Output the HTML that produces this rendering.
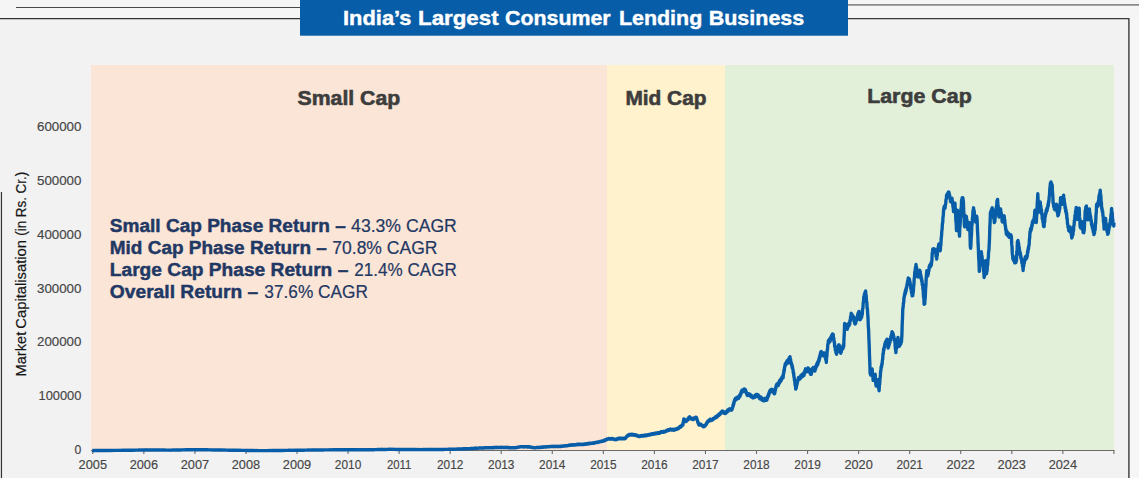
<!DOCTYPE html>
<html><head><meta charset="utf-8"><title>India's Largest Consumer Lending Business</title>
<style>
html,body{margin:0;padding:0;background:#f2f2f2;}
body{width:1139px;height:478px;overflow:hidden;font-family:"Liberation Sans",sans-serif;}
svg{display:block;}
svg text{font-family:"Liberation Sans",sans-serif;}
</style></head><body>
<svg width="1139" height="478" viewBox="0 0 1139 478">
<rect x="0" y="0" width="1139" height="478" fill="#f2f2f2"/>
<!-- outer texture strips -->
<rect x="0" y="0" width="300" height="18.6" fill="#f5f5f5"/>
<rect x="848" y="0" width="291" height="18.6" fill="#f5f5f5"/>
<rect x="1129.5" y="18" width="9.5" height="460" fill="#f6f6f6"/>
<!-- frame lines -->
<line x1="16" y1="7.5" x2="300" y2="7.5" stroke="#474747" stroke-width="1"/>
<line x1="0" y1="18.6" x2="300" y2="18.6" stroke="#333" stroke-width="1.3"/>
<line x1="848" y1="4.9" x2="1139" y2="4.9" stroke="#8a8a8a" stroke-width="1.6"/>
<polyline points="848,18.6 1128.9,18.6 1128.9,478" fill="none" stroke="#3a3a3a" stroke-width="1.4"/>
<line x1="1.45" y1="192" x2="1.45" y2="478" stroke="#333" stroke-width="1.2"/>
<!-- title -->
<rect x="300" y="0" width="548" height="35.7" fill="#075da8"/>
<text y="25" font-size="20.5" font-weight="bold" fill="#ffffff" stroke="#ffffff" stroke-width="0.4"><tspan x="343" textLength="68.5" lengthAdjust="spacingAndGlyphs">India’s</tspan><tspan x="418" textLength="80.6" lengthAdjust="spacingAndGlyphs">Largest</tspan><tspan x="505.1" textLength="105.6" lengthAdjust="spacingAndGlyphs">Consumer</tspan><tspan x="618.9" textLength="83.4" lengthAdjust="spacingAndGlyphs">Lending</tspan><tspan x="708.7" textLength="95.6" lengthAdjust="spacingAndGlyphs">Business</tspan></text>
<!-- zones -->
<rect x="91" y="65" width="516" height="385.5" fill="#fbe5d6"/>
<rect x="607" y="65" width="118" height="385.5" fill="#fff2cc"/>
<rect x="725" y="65" width="389" height="385.5" fill="#e2f0d9"/>
<g font-size="20.8" font-weight="bold" fill="#3d3d3d" stroke="#3d3d3d" stroke-width="0.6">
<text x="297.6" y="104.9" textLength="102.6" lengthAdjust="spacingAndGlyphs">Small Cap</text>
<text x="625.4" y="104.9" textLength="81.1" lengthAdjust="spacingAndGlyphs">Mid Cap</text>
<text x="867.2" y="102.7" textLength="104.5" lengthAdjust="spacingAndGlyphs">Large Cap</text>
</g>
<!-- axis -->
<g stroke="#6a6a6a" stroke-width="1.1">
<line x1="91" y1="450.5" x2="1114.5" y2="450.5"/>
<line x1="92.80" y1="450.5" x2="92.80" y2="454" /><line x1="143.85" y1="450.5" x2="143.85" y2="454" /><line x1="194.91" y1="450.5" x2="194.91" y2="454" /><line x1="245.96" y1="450.5" x2="245.96" y2="454" /><line x1="297.02" y1="450.5" x2="297.02" y2="454" /><line x1="348.07" y1="450.5" x2="348.07" y2="454" /><line x1="399.13" y1="450.5" x2="399.13" y2="454" /><line x1="450.19" y1="450.5" x2="450.19" y2="454" /><line x1="501.24" y1="450.5" x2="501.24" y2="454" /><line x1="552.29" y1="450.5" x2="552.29" y2="454" /><line x1="603.35" y1="450.5" x2="603.35" y2="454" /><line x1="654.40" y1="450.5" x2="654.40" y2="454" /><line x1="705.46" y1="450.5" x2="705.46" y2="454" /><line x1="756.51" y1="450.5" x2="756.51" y2="454" /><line x1="807.57" y1="450.5" x2="807.57" y2="454" /><line x1="858.62" y1="450.5" x2="858.62" y2="454" /><line x1="909.68" y1="450.5" x2="909.68" y2="454" /><line x1="960.73" y1="450.5" x2="960.73" y2="454" /><line x1="1011.79" y1="450.5" x2="1011.79" y2="454" /><line x1="1062.85" y1="450.5" x2="1062.85" y2="454" /><line x1="1113.90" y1="450.5" x2="1113.90" y2="454" />
</g>
<g font-size="12" fill="#454545" stroke="#454545" stroke-width="0.15">
<text x="92.80" y="468.8" text-anchor="middle" textLength="28.4" lengthAdjust="spacingAndGlyphs">2005</text><text x="143.85" y="468.8" text-anchor="middle" textLength="28.4" lengthAdjust="spacingAndGlyphs">2006</text><text x="194.91" y="468.8" text-anchor="middle" textLength="28.4" lengthAdjust="spacingAndGlyphs">2007</text><text x="245.96" y="468.8" text-anchor="middle" textLength="28.4" lengthAdjust="spacingAndGlyphs">2008</text><text x="297.02" y="468.8" text-anchor="middle" textLength="28.4" lengthAdjust="spacingAndGlyphs">2009</text><text x="348.07" y="468.8" text-anchor="middle" textLength="26.4" lengthAdjust="spacingAndGlyphs">2010</text><text x="399.13" y="468.8" text-anchor="middle" textLength="24.4" lengthAdjust="spacingAndGlyphs">2011</text><text x="450.19" y="468.8" text-anchor="middle" textLength="26.4" lengthAdjust="spacingAndGlyphs">2012</text><text x="501.24" y="468.8" text-anchor="middle" textLength="26.4" lengthAdjust="spacingAndGlyphs">2013</text><text x="552.29" y="468.8" text-anchor="middle" textLength="26.4" lengthAdjust="spacingAndGlyphs">2014</text><text x="603.35" y="468.8" text-anchor="middle" textLength="26.4" lengthAdjust="spacingAndGlyphs">2015</text><text x="654.40" y="468.8" text-anchor="middle" textLength="26.4" lengthAdjust="spacingAndGlyphs">2016</text><text x="705.46" y="468.8" text-anchor="middle" textLength="26.4" lengthAdjust="spacingAndGlyphs">2017</text><text x="756.51" y="468.8" text-anchor="middle" textLength="26.4" lengthAdjust="spacingAndGlyphs">2018</text><text x="807.57" y="468.8" text-anchor="middle" textLength="26.4" lengthAdjust="spacingAndGlyphs">2019</text><text x="858.62" y="468.8" text-anchor="middle" textLength="28.4" lengthAdjust="spacingAndGlyphs">2020</text><text x="909.68" y="468.8" text-anchor="middle" textLength="26.4" lengthAdjust="spacingAndGlyphs">2021</text><text x="960.73" y="468.8" text-anchor="middle" textLength="28.4" lengthAdjust="spacingAndGlyphs">2022</text><text x="1011.79" y="468.8" text-anchor="middle" textLength="28.4" lengthAdjust="spacingAndGlyphs">2023</text><text x="1062.85" y="468.8" text-anchor="middle" textLength="28.4" lengthAdjust="spacingAndGlyphs">2024</text>
<text x="81.4" y="400.3" text-anchor="end" textLength="42.9" lengthAdjust="spacingAndGlyphs">100000</text><text x="81.4" y="346.4" text-anchor="end" textLength="44.4" lengthAdjust="spacingAndGlyphs">200000</text><text x="81.4" y="292.6" text-anchor="end" textLength="44.4" lengthAdjust="spacingAndGlyphs">300000</text><text x="81.4" y="238.8" text-anchor="end" textLength="44.4" lengthAdjust="spacingAndGlyphs">400000</text><text x="81.4" y="185.0" text-anchor="end" textLength="44.4" lengthAdjust="spacingAndGlyphs">500000</text><text x="81.4" y="131.1" text-anchor="end" textLength="44.4" lengthAdjust="spacingAndGlyphs">600000</text><text x="81.3" y="453.7" text-anchor="end" textLength="6.8" lengthAdjust="spacingAndGlyphs">0</text>
</g>
<g font-size="14.8" fill="#151515" stroke="#151515" stroke-width="0.2">
<text transform="translate(26.2,376.4) rotate(-90)" textLength="44.6" lengthAdjust="spacingAndGlyphs">Market</text>
<text transform="translate(26.2,328.7) rotate(-90)" textLength="88.7" lengthAdjust="spacingAndGlyphs">Capitalisation</text>
<text transform="translate(26.2,235.8) rotate(-90)" textLength="64" lengthAdjust="spacingAndGlyphs">(in Rs. Cr.)</text>
</g>
<!-- annotations -->
<g font-size="18" fill="#1f3864">
<text x="109.8" y="231.6"><tspan font-weight="bold" stroke="#1f3864" stroke-width="0.45" textLength="236" lengthAdjust="spacingAndGlyphs">Small Cap Phase Return –</tspan><tspan x="351.1" stroke="#1f3864" stroke-width="0.2" textLength="105.7" lengthAdjust="spacingAndGlyphs">43.3% CAGR</tspan></text>
<text x="109.8" y="253.6"><tspan font-weight="bold" stroke="#1f3864" stroke-width="0.45" textLength="217" lengthAdjust="spacingAndGlyphs">Mid Cap Phase Return –</tspan><tspan x="332.3" stroke="#1f3864" stroke-width="0.2" textLength="105.1" lengthAdjust="spacingAndGlyphs">70.8% CAGR</tspan></text>
<text x="109.8" y="275.6"><tspan font-weight="bold" stroke="#1f3864" stroke-width="0.45" textLength="238.5" lengthAdjust="spacingAndGlyphs">Large Cap Phase Return –</tspan><tspan x="354.3" stroke="#1f3864" stroke-width="0.2" textLength="102.5" lengthAdjust="spacingAndGlyphs">21.4% CAGR</tspan></text>
<text x="109.8" y="297.8"><tspan font-weight="bold" stroke="#1f3864" stroke-width="0.45" textLength="148.5" lengthAdjust="spacingAndGlyphs">Overall Return –</tspan><tspan x="264.3" stroke="#1f3864" stroke-width="0.2" textLength="103.6" lengthAdjust="spacingAndGlyphs">37.6% CAGR</tspan></text>
</g>
<!-- data line -->
<path d="M92.20,450.49 L92.50,450.58 L92.80,450.49 L93.10,450.59 L93.40,450.48 L93.70,450.58 L94.00,450.50 L94.30,450.56 L94.60,450.47 L94.90,450.57 L95.20,450.47 L95.50,450.55 L95.80,450.48 L96.10,450.55 L96.40,450.47 L96.70,450.55 L97.00,450.48 L97.30,450.54 L97.60,450.47 L97.90,450.55 L98.20,450.45 L98.50,450.52 L98.80,450.44 L99.10,450.52 L99.40,450.44 L99.70,450.52 L100.00,450.46 L100.30,450.54 L100.60,450.45 L100.90,450.52 L101.20,450.42 L101.50,450.53 L101.80,450.44 L102.10,450.52 L102.40,450.42 L102.70,450.51 L103.00,450.43 L103.30,450.51 L103.60,450.41 L103.90,450.51 L104.20,450.40 L104.50,450.48 L104.80,450.41 L105.10,450.48 L105.40,450.41 L105.70,450.47 L106.00,450.41 L106.30,450.49 L106.60,450.41 L106.90,450.48 L107.20,450.40 L107.50,450.47 L107.80,450.38 L108.10,450.47 L108.40,450.39 L108.70,450.46 L109.00,450.37 L109.30,450.45 L109.60,450.36 L109.90,450.44 L110.20,450.36 L110.50,450.46 L110.80,450.38 L111.10,450.46 L111.40,450.37 L111.70,450.45 L112.00,450.38 L112.30,450.43 L112.60,450.37 L112.90,450.45 L113.20,450.36 L113.50,450.44 L113.80,450.34 L114.10,450.45 L114.40,450.35 L114.70,450.42 L115.00,450.34 L115.30,450.43 L115.60,450.34 L115.90,450.42 L116.20,450.31 L116.50,450.42 L116.80,450.33 L117.10,450.42 L117.40,450.33 L117.70,450.40 L118.00,450.31 L118.30,450.41 L118.60,450.31 L118.90,450.40 L119.20,450.30 L119.50,450.38 L119.80,450.31 L120.10,450.37 L120.40,450.31 L120.70,450.36 L121.00,450.28 L121.30,450.38 L121.60,450.28 L121.90,450.34 L122.20,450.25 L122.50,450.35 L122.80,450.27 L123.10,450.34 L123.40,450.25 L123.70,450.35 L124.00,450.25 L124.30,450.32 L124.60,450.25 L124.90,450.33 L125.20,450.25 L125.50,450.31 L125.80,450.22 L126.10,450.30 L126.40,450.22 L126.70,450.33 L127.00,450.22 L127.30,450.31 L127.60,450.22 L127.90,450.28 L128.20,450.20 L128.50,450.29 L128.80,450.19 L129.10,450.27 L129.40,450.16 L129.70,450.27 L130.00,450.15 L130.30,450.24 L130.60,450.15 L130.90,450.24 L131.20,450.14 L131.50,450.22 L131.80,450.14 L132.10,450.21 L132.40,450.14 L132.70,450.24 L133.00,450.11 L133.30,450.22 L133.60,450.12 L133.90,450.20 L134.20,450.12 L134.50,450.19 L134.80,450.09 L135.10,450.20 L135.40,450.10 L135.70,450.19 L136.00,450.08 L136.30,450.18 L136.60,450.07 L136.90,450.17 L137.20,450.07 L137.50,450.16 L137.80,450.06 L138.10,450.14 L138.40,450.03 L138.70,450.14 L139.00,450.05 L139.30,450.15 L139.60,450.03 L139.90,450.13 L140.20,450.04 L140.50,450.11 L140.80,450.02 L141.10,450.11 L141.40,450.01 L141.70,450.11 L142.00,450.00 L142.30,450.11 L142.60,450.01 L142.90,450.09 L143.20,449.98 L143.50,450.08 L143.80,449.98 L144.10,450.08 L144.40,449.96 L144.70,450.07 L145.00,449.95 L145.30,450.07 L145.60,449.95 L145.90,450.04 L146.20,449.96 L146.50,450.05 L146.80,449.92 L147.10,450.03 L147.40,449.93 L147.70,450.03 L148.00,449.91 L148.30,450.00 L148.60,449.90 L148.90,450.00 L149.20,449.89 L149.50,449.99 L149.80,449.89 L150.10,450.01 L150.40,449.90 L150.70,450.01 L151.00,449.92 L151.30,449.99 L151.60,449.91 L151.90,450.01 L152.20,449.93 L152.50,450.03 L152.80,449.93 L153.10,450.01 L153.40,449.94 L153.70,450.02 L154.00,449.95 L154.30,450.02 L154.60,449.95 L154.90,450.03 L155.20,449.96 L155.50,450.03 L155.80,449.95 L156.10,450.04 L156.40,449.95 L156.70,450.05 L157.00,449.97 L157.30,450.07 L157.60,449.99 L157.90,450.07 L158.20,449.99 L158.50,450.07 L158.80,450.00 L159.10,450.09 L159.40,450.00 L159.70,450.07 L160.00,450.00 L160.30,450.09 L160.60,450.01 L160.90,450.10 L161.20,450.01 L161.50,450.12 L161.80,450.00 L162.10,450.10 L162.40,450.01 L162.70,450.12 L163.00,450.03 L163.30,450.11 L163.60,450.03 L163.90,450.13 L164.20,450.02 L164.50,450.15 L164.80,450.04 L165.10,450.14 L165.40,450.04 L165.70,450.13 L166.00,450.07 L166.30,450.15 L166.60,450.06 L166.90,450.15 L167.20,450.06 L167.50,450.18 L167.80,450.08 L168.10,450.17 L168.40,450.09 L168.70,450.17 L169.00,450.07 L169.30,450.17 L169.60,450.07 L169.90,450.20 L170.20,450.08 L170.50,450.16 L170.80,450.06 L171.10,450.16 L171.40,450.06 L171.70,450.14 L172.00,450.03 L172.30,450.14 L172.60,450.05 L172.90,450.13 L173.20,450.04 L173.50,450.12 L173.80,450.02 L174.10,450.10 L174.40,450.00 L174.70,450.11 L175.00,450.02 L175.30,450.09 L175.60,449.99 L175.90,450.09 L176.20,449.96 L176.50,450.05 L176.80,449.97 L177.10,450.04 L177.40,449.93 L177.70,450.03 L178.00,449.93 L178.30,450.02 L178.60,449.91 L178.90,450.01 L179.20,449.90 L179.50,449.98 L179.80,449.88 L180.10,449.98 L180.40,449.88 L180.70,449.96 L181.00,449.87 L181.30,449.96 L181.60,449.85 L181.90,449.94 L182.20,449.83 L182.50,449.94 L182.80,449.85 L183.10,449.92 L183.40,449.82 L183.70,449.93 L184.00,449.80 L184.30,449.90 L184.60,449.81 L184.90,449.89 L185.20,449.77 L185.50,449.86 L185.80,449.75 L186.10,449.85 L186.40,449.74 L186.70,449.85 L187.00,449.74 L187.30,449.83 L187.60,449.72 L187.90,449.82 L188.20,449.73 L188.50,449.83 L188.80,449.72 L189.10,449.81 L189.40,449.68 L189.70,449.78 L190.00,449.68 L190.30,449.78 L190.60,449.65 L190.90,449.75 L191.20,449.65 L191.50,449.75 L191.80,449.64 L192.10,449.73 L192.40,449.63 L192.70,449.71 L193.00,449.58 L193.30,449.68 L193.60,449.61 L193.90,449.71 L194.20,449.60 L194.50,449.73 L194.80,449.64 L195.10,449.73 L195.40,449.61 L195.70,449.75 L196.00,449.62 L196.30,449.71 L196.60,449.62 L196.90,449.72 L197.20,449.63 L197.50,449.76 L197.80,449.64 L198.10,449.74 L198.40,449.66 L198.70,449.78 L199.00,449.68 L199.30,449.77 L199.60,449.67 L199.90,449.76 L200.20,449.67 L200.50,449.76 L200.80,449.69 L201.10,449.78 L201.40,449.70 L201.70,449.78 L202.00,449.70 L202.30,449.82 L202.60,449.70 L202.90,449.80 L203.20,449.72 L203.50,449.82 L203.80,449.73 L204.10,449.84 L204.40,449.73 L204.70,449.85 L205.00,449.77 L205.30,449.87 L205.60,449.78 L205.90,449.87 L206.20,449.77 L206.50,449.89 L206.80,449.77 L207.10,449.88 L207.40,449.79 L207.70,449.89 L208.00,449.80 L208.30,449.91 L208.60,449.81 L208.90,449.90 L209.20,449.82 L209.50,449.90 L209.80,449.80 L210.10,449.90 L210.40,449.81 L210.70,449.93 L211.00,449.85 L211.30,449.95 L211.60,449.86 L211.90,449.94 L212.20,449.86 L212.50,449.95 L212.80,449.85 L213.10,449.96 L213.40,449.88 L213.70,449.98 L214.00,449.89 L214.30,449.98 L214.60,449.89 L214.90,449.96 L215.20,449.86 L215.50,449.99 L215.80,449.90 L216.10,449.98 L216.40,449.89 L216.70,450.02 L217.00,449.91 L217.30,450.01 L217.60,449.93 L217.90,450.03 L218.20,449.96 L218.50,450.04 L218.80,449.95 L219.10,450.05 L219.40,449.97 L219.70,450.06 L220.00,449.97 L220.30,450.09 L220.60,449.98 L220.90,450.08 L221.20,449.98 L221.50,450.09 L221.80,449.99 L222.10,450.10 L222.40,450.00 L222.70,450.11 L223.00,450.04 L223.30,450.10 L223.60,450.05 L223.90,450.12 L224.20,450.03 L224.50,450.14 L224.80,450.05 L225.10,450.13 L225.40,450.06 L225.70,450.17 L226.00,450.06 L226.30,450.16 L226.60,450.07 L226.90,450.15 L227.20,450.09 L227.50,450.17 L227.80,450.10 L228.10,450.20 L228.40,450.10 L228.70,450.20 L229.00,450.14 L229.30,450.22 L229.60,450.16 L229.90,450.23 L230.20,450.16 L230.50,450.24 L230.80,450.17 L231.10,450.26 L231.40,450.17 L231.70,450.27 L232.00,450.16 L232.30,450.27 L232.60,450.18 L232.90,450.29 L233.20,450.20 L233.50,450.29 L233.80,450.21 L234.10,450.30 L234.40,450.20 L234.70,450.29 L235.00,450.23 L235.30,450.30 L235.60,450.25 L235.90,450.32 L236.20,450.25 L236.50,450.36 L236.80,450.26 L237.10,450.34 L237.40,450.26 L237.70,450.35 L238.00,450.26 L238.30,450.37 L238.60,450.29 L238.90,450.36 L239.20,450.29 L239.50,450.40 L239.80,450.30 L240.10,450.39 L240.40,450.30 L240.70,450.38 L241.00,450.33 L241.30,450.41 L241.60,450.33 L241.90,450.40 L242.20,450.34 L242.50,450.44 L242.80,450.35 L243.10,450.43 L243.40,450.36 L243.70,450.42 L244.00,450.34 L244.30,450.44 L244.60,450.35 L244.90,450.44 L245.20,450.38 L245.50,450.45 L245.80,450.39 L246.10,450.46 L246.40,450.40 L246.70,450.48 L247.00,450.41 L247.30,450.48 L247.60,450.43 L247.90,450.51 L248.20,450.43 L248.50,450.51 L248.80,450.43 L249.10,450.51 L249.40,450.45 L249.70,450.51 L250.00,450.45 L250.30,450.53 L250.60,450.44 L250.90,450.54 L251.20,450.44 L251.50,450.53 L251.80,450.48 L252.10,450.55 L252.40,450.47 L252.70,450.56 L253.00,450.48 L253.30,450.57 L253.60,450.48 L253.90,450.59 L254.20,450.50 L254.50,450.58 L254.80,450.50 L255.10,450.58 L255.40,450.53 L255.70,450.59 L256.00,450.54 L256.30,450.62 L256.60,450.52 L256.90,450.61 L257.20,450.55 L257.50,450.61 L257.80,450.56 L258.10,450.62 L258.40,450.56 L258.70,450.64 L259.00,450.58 L259.30,450.64 L259.60,450.57 L259.90,450.65 L260.20,450.59 L260.50,450.66 L260.80,450.60 L261.10,450.66 L261.40,450.60 L261.70,450.68 L262.00,450.60 L262.30,450.68 L262.60,450.59 L262.90,450.68 L263.20,450.59 L263.50,450.67 L263.80,450.59 L264.10,450.67 L264.40,450.58 L264.70,450.67 L265.00,450.57 L265.30,450.66 L265.60,450.58 L265.90,450.66 L266.20,450.57 L266.50,450.63 L266.80,450.57 L267.10,450.62 L267.40,450.56 L267.70,450.63 L268.00,450.55 L268.30,450.61 L268.60,450.53 L268.90,450.61 L269.20,450.54 L269.50,450.59 L269.80,450.53 L270.10,450.59 L270.40,450.51 L270.70,450.61 L271.00,450.51 L271.30,450.58 L271.60,450.51 L271.90,450.58 L272.20,450.51 L272.50,450.56 L272.80,450.49 L273.10,450.58 L273.40,450.48 L273.70,450.55 L274.00,450.48 L274.30,450.54 L274.60,450.46 L274.90,450.55 L275.20,450.45 L275.50,450.55 L275.80,450.47 L276.10,450.53 L276.40,450.43 L276.70,450.53 L277.00,450.44 L277.30,450.52 L277.60,450.43 L277.90,450.53 L278.20,450.43 L278.50,450.53 L278.80,450.42 L279.10,450.49 L279.40,450.41 L279.70,450.50 L280.00,450.43 L280.30,450.51 L280.60,450.43 L280.90,450.49 L281.20,450.40 L281.50,450.49 L281.80,450.39 L282.10,450.46 L282.40,450.39 L282.70,450.45 L283.00,450.37 L283.30,450.45 L283.60,450.36 L283.90,450.44 L284.20,450.36 L284.50,450.43 L284.80,450.34 L285.10,450.45 L285.40,450.35 L285.70,450.44 L286.00,450.35 L286.30,450.42 L286.60,450.33 L286.90,450.42 L287.20,450.34 L287.50,450.40 L287.80,450.33 L288.10,450.41 L288.40,450.30 L288.70,450.39 L289.00,450.30 L289.30,450.39 L289.60,450.30 L289.90,450.40 L290.20,450.29 L290.50,450.38 L290.80,450.29 L291.10,450.36 L291.40,450.29 L291.70,450.38 L292.00,450.30 L292.30,450.37 L292.60,450.28 L292.90,450.34 L293.20,450.27 L293.50,450.34 L293.80,450.25 L294.10,450.34 L294.40,450.25 L294.70,450.34 L295.00,450.22 L295.30,450.33 L295.60,450.22 L295.90,450.31 L296.20,450.21 L296.50,450.30 L296.80,450.20 L297.10,450.28 L297.40,450.19 L297.70,450.28 L298.00,450.20 L298.30,450.26 L298.60,450.20 L298.90,450.26 L299.20,450.17 L299.50,450.26 L299.80,450.15 L300.10,450.24 L300.40,450.14 L300.70,450.24 L301.00,450.15 L301.30,450.22 L301.60,450.13 L301.90,450.23 L302.20,450.11 L302.50,450.22 L302.80,450.11 L303.10,450.22 L303.40,450.10 L303.70,450.20 L304.00,450.12 L304.30,450.20 L304.60,450.09 L304.90,450.19 L305.20,450.09 L305.50,450.19 L305.80,450.10 L306.10,450.17 L306.40,450.09 L306.70,450.16 L307.00,450.06 L307.30,450.17 L307.60,450.04 L307.90,450.14 L308.20,450.05 L308.50,450.12 L308.80,450.03 L309.10,450.13 L309.40,450.03 L309.70,450.12 L310.00,450.02 L310.30,450.11 L310.60,450.03 L310.90,450.11 L311.20,450.01 L311.50,450.12 L311.80,450.02 L312.10,450.10 L312.40,449.98 L312.70,450.07 L313.00,450.00 L313.30,450.07 L313.60,449.96 L313.90,450.08 L314.20,449.96 L314.50,450.05 L314.80,449.96 L315.10,450.05 L315.40,449.93 L315.70,450.03 L316.00,449.95 L316.30,450.03 L316.60,449.91 L316.90,450.01 L317.20,449.94 L317.50,450.00 L317.80,449.91 L318.10,450.01 L318.40,449.93 L318.70,450.00 L319.00,449.91 L319.30,450.01 L319.60,449.90 L319.90,450.00 L320.20,449.91 L320.50,449.99 L320.80,449.88 L321.10,450.01 L321.40,449.90 L321.70,450.00 L322.00,449.88 L322.30,450.00 L322.60,449.89 L322.90,449.97 L323.20,449.85 L323.50,449.96 L323.80,449.87 L324.10,449.94 L324.40,449.87 L324.70,449.93 L325.00,449.86 L325.30,449.94 L325.60,449.85 L325.90,449.94 L326.20,449.83 L326.50,449.94 L326.80,449.82 L327.10,449.94 L327.40,449.81 L327.70,449.94 L328.00,449.81 L328.30,449.93 L328.60,449.82 L328.90,449.89 L329.20,449.82 L329.50,449.89 L329.80,449.80 L330.10,449.90 L330.40,449.80 L330.70,449.91 L331.00,449.82 L331.30,449.90 L331.60,449.80 L331.90,449.90 L332.20,449.82 L332.50,449.90 L332.80,449.80 L333.10,449.90 L333.40,449.79 L333.70,449.90 L334.00,449.77 L334.30,449.87 L334.60,449.77 L334.90,449.89 L335.20,449.78 L335.50,449.86 L335.80,449.77 L336.10,449.86 L336.40,449.75 L336.70,449.87 L337.00,449.75 L337.30,449.84 L337.60,449.74 L337.90,449.85 L338.20,449.73 L338.50,449.84 L338.80,449.75 L339.10,449.83 L339.40,449.72 L339.70,449.83 L340.00,449.74 L340.30,449.82 L340.60,449.73 L340.90,449.82 L341.20,449.72 L341.50,449.80 L341.80,449.72 L342.10,449.80 L342.40,449.67 L342.70,449.79 L343.00,449.69 L343.30,449.80 L343.60,449.70 L343.90,449.78 L344.20,449.67 L344.50,449.77 L344.80,449.67 L345.10,449.78 L345.40,449.71 L345.70,449.78 L346.00,449.69 L346.30,449.79 L346.60,449.69 L346.90,449.78 L347.20,449.71 L347.50,449.81 L347.80,449.70 L348.10,449.80 L348.40,449.72 L348.70,449.81 L349.00,449.70 L349.30,449.83 L349.60,449.72 L349.90,449.80 L350.20,449.72 L350.50,449.83 L350.80,449.72 L351.10,449.82 L351.40,449.71 L351.70,449.83 L352.00,449.72 L352.30,449.81 L352.60,449.75 L352.90,449.85 L353.20,449.74 L353.50,449.85 L353.80,449.72 L354.10,449.84 L354.40,449.73 L354.70,449.84 L355.00,449.71 L355.30,449.84 L355.60,449.73 L355.90,449.84 L356.20,449.74 L356.50,449.86 L356.80,449.73 L357.10,449.84 L357.40,449.75 L357.70,449.84 L358.00,449.75 L358.30,449.84 L358.60,449.75 L358.90,449.84 L359.20,449.78 L359.50,449.87 L359.80,449.79 L360.10,449.86 L360.40,449.75 L360.70,449.88 L361.00,449.78 L361.30,449.85 L361.60,449.76 L361.90,449.89 L362.20,449.78 L362.50,449.87 L362.80,449.79 L363.10,449.90 L363.40,449.77 L363.70,449.86 L364.00,449.79 L364.30,449.87 L364.60,449.77 L364.90,449.88 L365.20,449.78 L365.50,449.89 L365.80,449.80 L366.10,449.89 L366.40,449.77 L366.70,449.88 L367.00,449.78 L367.30,449.84 L367.60,449.74 L367.90,449.84 L368.20,449.74 L368.50,449.83 L368.80,449.72 L369.10,449.83 L369.40,449.72 L369.70,449.81 L370.00,449.71 L370.30,449.80 L370.60,449.68 L370.90,449.78 L371.20,449.69 L371.50,449.79 L371.80,449.69 L372.10,449.78 L372.40,449.66 L372.70,449.76 L373.00,449.65 L373.30,449.76 L373.60,449.65 L373.90,449.73 L374.20,449.63 L374.50,449.70 L374.80,449.60 L375.10,449.66 L375.40,449.58 L375.70,449.67 L376.00,449.56 L376.30,449.68 L376.60,449.56 L376.90,449.65 L377.20,449.52 L377.50,449.64 L377.80,449.49 L378.10,449.64 L378.40,449.52 L378.70,449.60 L379.00,449.49 L379.30,449.59 L379.60,449.50 L379.90,449.61 L380.20,449.49 L380.50,449.59 L380.80,449.46 L381.10,449.56 L381.40,449.45 L381.70,449.57 L382.00,449.46 L382.30,449.54 L382.60,449.44 L382.90,449.54 L383.20,449.44 L383.50,449.52 L383.80,449.43 L384.10,449.50 L384.40,449.41 L384.70,449.49 L385.00,449.37 L385.30,449.49 L385.60,449.39 L385.90,449.49 L386.20,449.35 L386.50,449.45 L386.80,449.32 L387.10,449.44 L387.40,449.33 L387.70,449.43 L388.00,449.32 L388.30,449.40 L388.60,449.28 L388.90,449.40 L389.20,449.27 L389.50,449.38 L389.80,449.30 L390.10,449.38 L390.40,449.29 L390.70,449.42 L391.00,449.33 L391.30,449.40 L391.60,449.30 L391.90,449.42 L392.20,449.30 L392.50,449.40 L392.80,449.31 L393.10,449.40 L393.40,449.30 L393.70,449.43 L394.00,449.31 L394.30,449.42 L394.60,449.31 L394.90,449.42 L395.20,449.35 L395.50,449.45 L395.80,449.35 L396.10,449.43 L396.40,449.35 L396.70,449.46 L397.00,449.33 L397.30,449.47 L397.60,449.37 L397.90,449.47 L398.20,449.35 L398.50,449.46 L398.80,449.35 L399.10,449.47 L399.40,449.38 L399.70,449.46 L400.00,449.36 L400.30,449.48 L400.60,449.36 L400.90,449.48 L401.20,449.39 L401.50,449.48 L401.80,449.40 L402.10,449.52 L402.40,449.41 L402.70,449.50 L403.00,449.42 L403.30,449.52 L403.60,449.44 L403.90,449.55 L404.20,449.43 L404.50,449.53 L404.80,449.45 L405.10,449.55 L405.40,449.43 L405.70,449.55 L406.00,449.44 L406.30,449.57 L406.60,449.46 L406.90,449.55 L407.20,449.45 L407.50,449.56 L407.80,449.44 L408.10,449.57 L408.40,449.46 L408.70,449.57 L409.00,449.46 L409.30,449.60 L409.60,449.49 L409.90,449.57 L410.20,449.50 L410.50,449.59 L410.80,449.47 L411.10,449.59 L411.40,449.48 L411.70,449.60 L412.00,449.48 L412.30,449.59 L412.60,449.50 L412.90,449.61 L413.20,449.53 L413.50,449.63 L413.80,449.51 L414.10,449.64 L414.40,449.55 L414.70,449.65 L415.00,449.53 L415.30,449.64 L415.60,449.52 L415.90,449.63 L416.20,449.54 L416.50,449.64 L416.80,449.56 L417.10,449.63 L417.40,449.54 L417.70,449.65 L418.00,449.54 L418.30,449.64 L418.60,449.57 L418.90,449.65 L419.20,449.55 L419.50,449.69 L419.80,449.56 L420.10,449.69 L420.40,449.60 L420.70,449.68 L421.00,449.58 L421.30,449.65 L421.60,449.55 L421.90,449.63 L422.20,449.56 L422.50,449.65 L422.80,449.53 L423.10,449.67 L423.40,449.55 L423.70,449.63 L424.00,449.53 L424.30,449.62 L424.60,449.53 L424.90,449.62 L425.20,449.50 L425.50,449.63 L425.80,449.52 L426.10,449.61 L426.40,449.51 L426.70,449.64 L427.00,449.52 L427.30,449.61 L427.60,449.51 L427.90,449.63 L428.20,449.52 L428.50,449.62 L428.80,449.49 L429.10,449.60 L429.40,449.48 L429.70,449.59 L430.00,449.50 L430.30,449.57 L430.60,449.46 L430.90,449.58 L431.20,449.47 L431.50,449.59 L431.80,449.46 L432.10,449.56 L432.40,449.46 L432.70,449.57 L433.00,449.46 L433.30,449.55 L433.60,449.43 L433.90,449.55 L434.20,449.46 L434.50,449.54 L434.80,449.43 L435.10,449.56 L435.40,449.45 L435.70,449.55 L436.00,449.43 L436.30,449.51 L436.60,449.42 L436.90,449.51 L437.20,449.39 L437.50,449.51 L437.80,449.40 L438.10,449.50 L438.40,449.40 L438.70,449.49 L439.00,449.38 L439.30,449.47 L439.60,449.39 L439.90,449.48 L440.20,449.38 L440.50,449.48 L440.80,449.36 L441.10,449.46 L441.40,449.34 L441.70,449.46 L442.00,449.34 L442.30,449.49 L442.60,449.37 L442.90,449.47 L443.20,449.34 L443.50,449.45 L443.80,449.35 L444.10,449.45 L444.40,449.32 L444.70,449.43 L445.00,449.32 L445.30,449.44 L445.60,449.31 L445.90,449.42 L446.20,449.31 L446.50,449.43 L446.80,449.31 L447.10,449.43 L447.40,449.31 L447.70,449.42 L448.00,449.28 L448.30,449.40 L448.60,449.28 L448.90,449.41 L449.20,449.29 L449.50,449.41 L449.80,449.28 L450.10,449.38 L450.40,449.27 L450.70,449.35 L451.00,449.23 L451.30,449.35 L451.60,449.19 L451.90,449.28 L452.20,449.17 L452.50,449.28 L452.80,449.17 L453.10,449.24 L453.40,449.11 L453.70,449.26 L454.00,449.13 L454.30,449.24 L454.60,449.10 L454.90,449.21 L455.20,449.09 L455.50,449.19 L455.80,449.09 L456.10,449.17 L456.40,449.06 L456.70,449.18 L457.00,449.04 L457.30,449.14 L457.60,449.01 L457.90,449.10 L458.20,448.96 L458.50,449.07 L458.80,448.95 L459.10,449.09 L459.40,448.95 L459.70,449.07 L460.00,448.95 L460.30,449.02 L460.60,448.88 L460.90,448.98 L461.20,448.89 L461.50,448.96 L461.80,448.83 L462.10,448.94 L462.40,448.83 L462.70,448.93 L463.00,448.79 L463.30,448.91 L463.60,448.78 L463.90,448.87 L464.20,448.75 L464.50,448.89 L464.80,448.73 L465.10,448.86 L465.40,448.70 L465.70,448.83 L466.00,448.65 L466.30,448.79 L466.60,448.68 L466.90,448.79 L467.20,448.62 L467.50,448.74 L467.80,448.64 L468.10,448.73 L468.40,448.61 L468.70,448.70 L469.00,448.60 L469.30,448.69 L469.60,448.60 L469.90,448.70 L470.20,448.57 L470.50,448.69 L470.80,448.55 L471.10,448.64 L471.40,448.49 L471.70,448.66 L472.00,448.48 L472.30,448.59 L472.60,448.46 L472.90,448.56 L473.20,448.40 L473.50,448.47 L473.80,448.33 L474.10,448.45 L474.40,448.26 L474.70,448.40 L475.00,448.21 L475.30,448.35 L475.60,448.17 L475.90,448.33 L476.20,448.15 L476.50,448.29 L476.80,448.12 L477.10,448.26 L477.40,448.07 L477.70,448.22 L478.00,448.06 L478.30,448.18 L478.60,448.06 L478.90,448.18 L479.20,448.03 L479.50,448.17 L479.80,448.00 L480.10,448.11 L480.40,447.93 L480.70,448.07 L481.00,447.94 L481.30,448.05 L481.60,447.89 L481.90,448.01 L482.20,447.89 L482.50,448.00 L482.80,447.90 L483.10,448.02 L483.40,447.89 L483.70,447.98 L484.00,447.84 L484.30,448.01 L484.60,447.79 L484.90,447.93 L485.20,447.75 L485.50,447.87 L485.80,447.76 L486.10,447.86 L486.40,447.76 L486.70,447.89 L487.00,447.71 L487.30,447.87 L487.60,447.70 L487.90,447.86 L488.20,447.68 L488.50,447.85 L488.80,447.69 L489.10,447.81 L489.40,447.68 L489.70,447.82 L490.00,447.64 L490.30,447.79 L490.60,447.65 L490.90,447.81 L491.20,447.65 L491.50,447.77 L491.80,447.61 L492.10,447.75 L492.40,447.58 L492.70,447.71 L493.00,447.56 L493.30,447.72 L493.60,447.57 L493.90,447.72 L494.20,447.51 L494.50,447.66 L494.80,447.49 L495.10,447.62 L495.40,447.48 L495.70,447.60 L496.00,447.45 L496.30,447.65 L496.60,447.46 L496.90,447.61 L497.20,447.49 L497.50,447.64 L497.80,447.47 L498.10,447.58 L498.40,447.44 L498.70,447.57 L499.00,447.43 L499.30,447.57 L499.60,447.41 L499.90,447.53 L500.20,447.39 L500.50,447.49 L500.80,447.29 L501.10,447.44 L501.40,447.32 L501.70,447.46 L502.00,447.30 L502.30,447.48 L502.60,447.38 L502.90,447.52 L503.20,447.39 L503.50,447.57 L503.80,447.45 L504.10,447.60 L504.40,447.43 L504.70,447.58 L505.00,447.41 L505.30,447.60 L505.60,447.47 L505.90,447.61 L506.20,447.51 L506.50,447.66 L506.80,447.49 L507.10,447.67 L507.40,447.52 L507.70,447.66 L508.00,447.50 L508.30,447.70 L508.60,447.55 L508.90,447.73 L509.20,447.57 L509.50,447.73 L509.80,447.59 L510.10,447.72 L510.40,447.60 L510.70,447.78 L511.00,447.63 L511.30,447.77 L511.60,447.63 L511.90,447.81 L512.20,447.69 L512.50,447.84 L512.80,447.69 L513.10,447.83 L513.40,447.73 L513.70,447.87 L514.00,447.68 L514.30,447.83 L514.60,447.75 L514.90,447.91 L515.20,447.78 L515.50,447.88 L515.80,447.67 L516.10,447.72 L516.40,447.51 L516.70,447.56 L517.00,447.34 L517.30,447.45 L517.60,447.20 L517.90,447.34 L518.20,447.09 L518.50,447.24 L518.80,447.02 L519.10,447.12 L519.40,446.92 L519.70,447.01 L520.00,446.78 L520.30,446.90 L520.60,446.69 L520.90,446.88 L521.20,446.66 L521.50,446.90 L521.80,446.71 L522.10,446.91 L522.40,446.68 L522.70,446.88 L523.00,446.72 L523.30,446.94 L523.60,446.75 L523.90,446.92 L524.20,446.78 L524.50,446.93 L524.80,446.71 L525.10,446.89 L525.40,446.71 L525.70,446.85 L526.00,446.66 L526.30,446.86 L526.60,446.70 L526.90,446.88 L527.20,446.76 L527.50,446.94 L527.80,446.75 L528.10,446.93 L528.40,446.78 L528.70,446.96 L529.00,446.77 L529.30,447.03 L529.60,446.87 L529.90,447.10 L530.20,447.00 L530.50,447.21 L530.80,447.11 L531.10,447.33 L531.40,447.23 L531.70,447.42 L532.00,447.33 L532.30,447.54 L532.60,447.46 L532.90,447.64 L533.20,447.54 L533.50,447.80 L533.80,447.71 L534.10,447.87 L534.40,447.72 L534.70,447.79 L535.00,447.65 L535.30,447.80 L535.60,447.61 L535.90,447.72 L536.20,447.59 L536.50,447.68 L536.80,447.49 L537.10,447.67 L537.40,447.45 L537.70,447.63 L538.00,447.42 L538.30,447.55 L538.60,447.41 L538.90,447.51 L539.20,447.38 L539.50,447.48 L539.80,447.31 L540.10,447.47 L540.40,447.32 L540.70,447.40 L541.00,447.20 L541.30,447.37 L541.60,447.14 L541.90,447.30 L542.20,447.06 L542.50,447.23 L542.80,447.03 L543.10,447.20 L543.40,447.03 L543.70,447.16 L544.00,447.03 L544.30,447.15 L544.60,446.97 L544.90,447.05 L545.20,446.88 L545.50,447.00 L545.80,446.79 L546.10,446.97 L546.40,446.76 L546.70,446.95 L547.00,446.74 L547.30,446.89 L547.60,446.71 L547.90,446.85 L548.20,446.65 L548.50,446.84 L548.80,446.59 L549.10,446.75 L549.40,446.58 L549.70,446.68 L550.00,446.50 L550.30,446.64 L550.60,446.48 L550.90,446.60 L551.20,446.43 L551.50,446.56 L551.80,446.38 L552.10,446.60 L552.40,446.45 L552.70,446.66 L553.00,446.50 L553.30,446.70 L553.60,446.49 L553.90,446.63 L554.20,446.40 L554.50,446.59 L554.80,446.39 L555.10,446.60 L555.40,446.39 L555.70,446.60 L556.00,446.44 L556.30,446.58 L556.60,446.44 L556.90,446.63 L557.20,446.48 L557.50,446.65 L557.80,446.45 L558.10,446.62 L558.40,446.44 L558.70,446.65 L559.00,446.45 L559.30,446.63 L559.60,446.43 L559.90,446.63 L560.20,446.45 L560.50,446.60 L560.80,446.39 L561.10,446.54 L561.40,446.27 L561.70,446.37 L562.00,446.15 L562.30,446.27 L562.60,446.07 L562.90,446.18 L563.20,445.96 L563.50,446.12 L563.80,445.93 L564.10,446.08 L564.40,445.91 L564.70,446.02 L565.00,445.84 L565.30,445.97 L565.60,445.71 L565.90,445.88 L566.20,445.68 L566.50,445.86 L566.80,445.60 L567.10,445.75 L567.40,445.57 L567.70,445.70 L568.00,445.43 L568.30,445.62 L568.60,445.38 L568.90,445.53 L569.20,445.27 L569.50,445.41 L569.80,445.16 L570.10,445.36 L570.40,445.09 L570.70,445.27 L571.00,444.99 L571.30,445.24 L571.60,444.93 L571.90,445.08 L572.20,444.85 L572.50,445.05 L572.80,444.79 L573.10,445.00 L573.40,444.75 L573.70,444.96 L574.00,444.70 L574.30,444.94 L574.60,444.65 L574.90,444.92 L575.20,444.64 L575.50,444.88 L575.80,444.62 L576.10,444.81 L576.40,444.53 L576.70,444.70 L577.00,444.46 L577.30,444.67 L577.60,444.43 L577.90,444.64 L578.20,444.37 L578.50,444.63 L578.80,444.35 L579.10,444.60 L579.40,444.33 L579.70,444.57 L580.00,444.29 L580.30,444.57 L580.60,444.32 L580.90,444.61 L581.20,444.35 L581.50,444.56 L581.80,444.26 L582.10,444.50 L582.40,444.21 L582.70,444.49 L583.00,444.22 L583.30,444.41 L583.60,444.13 L583.90,444.39 L584.20,444.06 L584.50,444.34 L584.80,444.00 L585.10,444.20 L585.40,443.97 L585.70,444.22 L586.00,443.84 L586.30,444.11 L586.60,443.80 L586.90,444.02 L587.20,443.71 L587.50,443.95 L587.80,443.64 L588.10,443.93 L588.40,443.58 L588.70,443.84 L589.00,443.48 L589.30,443.67 L589.60,443.34 L589.90,443.60 L590.20,443.35 L590.50,443.60 L590.80,443.28 L591.10,443.49 L591.40,443.23 L591.70,443.38 L592.00,443.06 L592.30,443.31 L592.60,443.08 L592.90,443.34 L593.20,443.04 L593.50,443.26 L593.80,442.88 L594.10,443.12 L594.40,442.72 L594.70,442.89 L595.00,442.59 L595.30,442.77 L595.60,442.50 L595.90,442.64 L596.20,442.37 L596.50,442.55 L596.80,442.19 L597.10,442.51 L597.40,442.13 L597.70,442.33 L598.00,442.04 L598.30,442.28 L598.60,441.93 L598.90,442.10 L599.20,441.73 L599.50,441.91 L599.80,441.57 L600.10,441.78 L600.40,441.41 L600.70,441.60 L601.00,441.20 L601.30,441.48 L601.60,441.09 L601.90,441.40 L602.20,441.02 L602.50,441.31 L602.80,440.92 L603.10,441.16 L603.40,440.73 L603.70,440.80 L604.00,440.29 L604.30,440.63 L604.60,440.13 L604.90,440.45 L605.20,440.04 L605.50,440.15 L605.80,439.67 L606.10,439.93 L606.40,439.31 L606.70,439.55 L607.00,439.05 L607.30,439.38 L607.60,438.91 L607.90,439.06 L608.20,438.66 L608.50,438.99 L608.80,438.56 L609.10,438.86 L609.40,438.49 L609.70,438.99 L610.00,438.69 L610.30,439.14 L610.60,438.75 L610.90,439.05 L611.20,438.70 L611.50,438.95 L611.80,438.50 L612.10,438.97 L612.40,438.61 L612.70,439.06 L613.00,438.67 L613.30,439.20 L613.60,438.96 L613.90,439.39 L614.20,439.26 L614.50,439.56 L614.80,439.27 L615.10,439.58 L615.40,439.27 L615.70,439.64 L616.00,439.28 L616.30,439.55 L616.60,439.15 L616.90,439.45 L617.20,438.87 L617.50,439.11 L617.80,438.60 L618.10,438.71 L618.40,438.29 L618.70,438.73 L619.00,438.34 L619.30,438.71 L619.60,438.35 L619.90,438.74 L620.20,438.24 L620.50,438.73 L620.80,438.39 L621.10,438.74 L621.40,438.35 L621.70,438.84 L622.00,438.52 L622.30,438.81 L622.60,438.49 L622.90,438.77 L623.20,438.39 L623.50,438.70 L623.80,438.27 L624.10,438.79 L624.40,438.35 L624.70,438.80 L625.00,438.42 L625.30,438.53 L625.60,437.70 L625.90,437.86 L626.20,437.06 L626.50,437.17 L626.80,436.34 L627.10,436.49 L627.40,435.67 L627.70,435.99 L628.00,435.12 L628.30,435.44 L628.60,434.82 L628.90,435.14 L629.20,434.62 L629.50,435.16 L629.80,434.52 L630.10,434.91 L630.40,434.49 L630.70,434.87 L631.00,434.42 L631.30,434.78 L631.60,434.39 L631.90,434.90 L632.20,434.52 L632.50,435.00 L632.80,434.41 L633.10,434.97 L633.40,434.39 L633.70,435.06 L634.00,434.66 L634.30,435.22 L634.60,434.82 L634.90,435.25 L635.20,434.87 L635.50,435.50 L635.80,435.04 L636.10,435.60 L636.40,435.17 L636.70,435.73 L637.00,435.40 L637.30,435.83 L637.60,435.56 L637.90,436.01 L638.20,435.74 L638.50,436.52 L638.80,436.07 L639.10,436.50 L639.40,436.05 L639.70,436.47 L640.00,435.93 L640.30,436.28 L640.60,435.74 L640.90,436.26 L641.20,435.73 L641.50,436.02 L641.80,435.61 L642.10,436.07 L642.40,435.63 L642.70,436.05 L643.00,435.65 L643.30,436.02 L643.60,435.47 L643.90,435.86 L644.20,435.27 L644.50,435.75 L644.80,435.19 L645.10,435.71 L645.40,435.19 L645.70,435.75 L646.00,435.12 L646.30,435.58 L646.60,434.98 L646.90,435.49 L647.20,434.98 L647.50,435.33 L647.80,434.88 L648.10,435.15 L648.40,434.66 L648.70,435.08 L649.00,434.61 L649.30,434.90 L649.60,434.52 L649.90,434.89 L650.20,434.33 L650.50,434.73 L650.80,434.14 L651.10,434.65 L651.40,433.93 L651.70,434.32 L652.00,433.68 L652.30,434.18 L652.60,433.69 L652.90,434.21 L653.20,433.68 L653.50,434.18 L653.80,433.51 L654.10,434.02 L654.40,433.48 L654.70,433.93 L655.00,433.34 L655.30,433.79 L655.60,433.16 L655.90,433.64 L656.20,433.16 L656.50,433.57 L656.80,432.94 L657.10,433.56 L657.40,432.96 L657.70,433.46 L658.00,432.84 L658.30,433.31 L658.60,432.88 L658.90,433.21 L659.20,432.70 L659.50,433.24 L659.80,432.55 L660.10,432.99 L660.40,432.11 L660.70,432.60 L661.00,431.72 L661.30,432.20 L661.60,431.71 L661.90,432.27 L662.20,431.73 L662.50,432.35 L662.80,431.76 L663.10,432.24 L663.40,431.48 L663.70,432.01 L664.00,431.40 L664.30,432.00 L664.60,431.39 L664.90,431.89 L665.20,431.38 L665.50,431.78 L665.80,431.02 L666.10,431.34 L666.40,430.59 L666.70,431.10 L667.00,430.18 L667.30,430.60 L667.60,429.90 L667.90,430.46 L668.20,429.85 L668.50,430.41 L668.80,429.71 L669.10,430.21 L669.40,429.63 L669.70,430.01 L670.00,429.16 L670.30,429.76 L670.60,429.10 L670.90,429.88 L671.20,429.36 L671.50,430.12 L671.80,429.44 L672.10,429.98 L672.40,429.41 L672.70,429.92 L673.00,429.30 L673.30,430.11 L673.60,429.45 L673.90,430.16 L674.20,429.48 L674.50,430.06 L674.80,429.33 L675.10,429.77 L675.40,429.05 L675.70,429.59 L676.00,429.00 L676.30,429.34 L676.60,428.71 L676.90,429.24 L677.20,428.40 L677.50,428.95 L677.80,428.10 L678.10,428.65 L678.40,427.91 L678.70,428.43 L679.00,427.34 L679.30,427.69 L679.60,426.78 L679.90,427.28 L680.20,426.55 L680.50,427.19 L680.80,426.08 L681.10,426.57 L681.40,425.61 L681.70,426.19 L682.00,425.07 L682.30,425.56 L682.60,424.50 L682.90,425.01 L683.20,422.48 L683.50,421.20 L683.80,419.00 L684.10,419.85 L684.40,419.17 L684.70,420.18 L685.00,419.61 L685.30,420.74 L685.60,420.37 L685.90,421.51 L686.20,420.74 L686.50,421.35 L686.80,420.16 L687.10,420.58 L687.40,419.45 L687.70,420.07 L688.00,418.74 L688.30,419.29 L688.60,417.77 L688.90,418.55 L689.20,417.32 L689.50,417.93 L689.80,416.83 L690.10,418.23 L690.40,417.66 L690.70,418.81 L691.00,417.98 L691.30,419.11 L691.60,418.31 L691.90,419.02 L692.20,418.21 L692.50,419.16 L692.80,418.82 L693.10,419.61 L693.40,418.73 L693.70,419.38 L694.00,418.38 L694.30,418.91 L694.60,417.68 L694.90,418.34 L695.20,417.39 L695.50,418.27 L695.80,417.16 L696.10,418.14 L696.40,417.35 L696.70,419.20 L697.00,419.05 L697.30,420.75 L697.60,421.03 L697.90,422.69 L698.20,422.54 L698.50,424.12 L698.80,424.26 L699.10,425.06 L699.40,424.11 L699.70,424.93 L700.00,424.08 L700.30,424.68 L700.60,424.00 L700.90,424.94 L701.20,424.40 L701.50,425.38 L701.80,424.89 L702.10,425.86 L702.40,425.17 L702.70,425.96 L703.00,425.45 L703.30,426.69 L703.60,426.21 L703.90,426.80 L704.20,425.85 L704.50,426.37 L704.80,425.47 L705.10,426.03 L705.40,425.01 L705.70,425.26 L706.00,424.11 L706.30,424.24 L706.60,423.07 L706.90,423.41 L707.20,422.08 L707.50,422.45 L707.80,421.18 L708.10,421.76 L708.40,420.84 L708.70,421.29 L709.00,420.42 L709.30,421.10 L709.60,419.70 L709.90,420.41 L710.20,419.16 L710.50,420.13 L710.80,419.43 L711.10,420.31 L711.40,419.70 L711.70,420.52 L712.00,419.68 L712.30,420.17 L712.60,419.08 L712.90,419.66 L713.20,418.54 L713.50,419.13 L713.80,418.30 L714.10,418.81 L714.40,417.91 L714.70,418.40 L715.00,417.37 L715.30,417.96 L715.60,416.77 L715.90,417.53 L716.20,416.42 L716.50,417.53 L716.80,416.15 L717.10,416.98 L717.40,415.64 L717.70,416.44 L718.00,415.01 L718.30,415.80 L718.60,414.64 L718.90,415.39 L719.20,414.16 L719.50,414.97 L719.80,413.55 L720.10,414.46 L720.40,413.03 L720.70,413.52 L721.00,412.40 L721.30,413.00 L721.60,411.68 L721.90,412.40 L722.20,411.15 L722.50,412.11 L722.80,411.11 L723.10,412.78 L723.40,411.67 L723.70,413.05 L724.00,411.96 L724.30,413.38 L724.60,412.10 L724.90,413.35 L725.20,412.35 L725.50,413.62 L725.80,412.17 L726.10,412.99 L726.40,411.63 L726.70,412.38 L727.00,410.91 L727.30,411.86 L727.60,410.09 L727.90,411.35 L728.20,409.59 L728.50,410.44 L728.80,409.48 L729.10,410.22 L729.40,408.89 L729.70,410.07 L730.00,408.97 L730.30,409.93 L730.60,409.15 L730.90,410.12 L731.20,409.37 L731.50,410.28 L731.80,408.81 L732.10,409.35 L732.40,407.63 L732.70,407.53 L733.00,405.31 L733.30,405.76 L733.60,403.21 L733.90,403.78 L734.20,401.24 L734.50,401.60 L734.80,399.41 L735.10,399.99 L735.40,398.53 L735.70,399.91 L736.00,398.12 L736.30,399.47 L736.60,397.64 L736.90,398.77 L737.20,397.59 L737.50,398.77 L737.80,397.00 L738.10,398.38 L738.40,397.15 L738.70,398.33 L739.00,396.53 L739.30,397.39 L739.60,395.20 L739.90,396.51 L740.20,394.55 L740.50,395.26 L740.80,392.92 L741.10,393.44 L741.40,391.25 L741.70,391.86 L742.00,390.27 L742.30,392.08 L742.60,389.84 L742.90,391.63 L743.20,389.82 L743.50,391.20 L743.80,389.28 L744.10,390.53 L744.40,388.97 L744.70,390.78 L745.00,389.48 L745.30,391.05 L745.60,389.93 L745.90,392.56 L746.20,391.68 L746.50,393.72 L746.80,392.95 L747.10,395.24 L747.40,394.17 L747.70,395.46 L748.00,393.92 L748.30,395.42 L748.60,393.67 L748.90,395.40 L749.20,394.00 L749.50,395.63 L749.80,394.16 L750.10,395.78 L750.40,394.73 L750.70,396.56 L751.00,395.25 L751.30,396.90 L751.60,395.67 L751.90,397.27 L752.20,396.00 L752.50,397.39 L752.80,396.31 L753.10,397.95 L753.40,396.55 L753.70,397.65 L754.00,396.22 L754.30,397.56 L754.60,396.12 L754.90,397.38 L755.20,395.25 L755.50,396.64 L755.80,394.97 L756.10,396.36 L756.40,394.55 L756.70,396.32 L757.00,394.45 L757.30,396.21 L757.60,394.61 L757.90,396.15 L758.20,394.81 L758.50,396.50 L758.80,395.88 L759.10,397.96 L759.40,396.50 L759.70,398.84 L760.00,397.86 L760.30,399.12 L760.60,397.23 L760.90,399.03 L761.20,397.27 L761.50,399.16 L761.80,398.09 L762.10,400.18 L762.40,398.81 L762.70,400.07 L763.00,399.20 L763.30,400.77 L763.60,399.13 L763.90,400.89 L764.20,399.21 L764.50,400.01 L764.80,398.49 L765.10,399.74 L765.40,398.50 L765.70,399.88 L766.00,398.59 L766.30,400.43 L766.60,398.63 L766.90,399.92 L767.20,397.84 L767.50,398.30 L767.80,396.03 L768.10,396.65 L768.40,394.51 L768.70,395.53 L769.00,392.79 L769.30,393.48 L769.60,391.17 L769.90,392.24 L770.20,390.40 L770.50,392.00 L770.80,389.69 L771.10,391.14 L771.40,389.52 L771.70,391.02 L772.00,389.48 L772.30,391.32 L772.60,389.65 L772.90,391.77 L773.20,390.38 L773.50,392.61 L773.80,391.52 L774.10,393.77 L774.40,392.58 L774.70,393.69 L775.00,390.48 L775.30,390.64 L775.60,387.57 L775.90,388.35 L776.20,385.31 L776.50,386.36 L776.80,384.18 L777.10,385.77 L777.40,383.79 L777.70,385.37 L778.00,383.57 L778.30,385.55 L778.60,382.89 L778.90,384.02 L779.20,381.52 L779.50,382.95 L779.80,380.51 L780.10,381.88 L780.40,379.58 L780.70,381.38 L781.00,378.83 L781.30,380.43 L781.60,377.89 L781.90,378.95 L782.20,376.98 L782.50,378.24 L782.80,375.96 L783.10,377.77 L783.40,373.57 L783.70,373.65 L784.00,369.69 L784.30,370.78 L784.60,366.77 L784.90,366.52 L785.20,363.88 L785.50,365.37 L785.80,363.12 L786.10,364.64 L786.40,362.29 L786.70,363.53 L787.00,360.96 L787.30,362.92 L787.60,360.20 L787.90,363.06 L788.20,359.78 L788.50,361.82 L788.80,358.79 L789.10,360.74 L789.40,357.52 L789.70,359.68 L790.00,356.70 L790.30,360.93 L790.60,359.42 L790.90,363.58 L791.20,362.29 L791.50,365.07 L791.80,364.06 L792.10,367.53 L792.40,366.16 L792.70,369.39 L793.00,369.38 L793.30,373.15 L793.60,372.66 L793.90,376.69 L794.20,377.25 L794.50,380.54 L794.80,381.11 L795.10,385.02 L795.40,385.25 L795.70,389.17 L796.00,387.41 L796.30,388.10 L796.60,385.06 L796.90,385.05 L797.20,381.78 L797.50,382.68 L797.80,379.63 L798.10,379.85 L798.40,377.73 L798.70,379.70 L799.00,377.35 L799.30,379.44 L799.60,377.31 L799.90,379.01 L800.20,376.69 L800.50,377.87 L800.80,375.65 L801.10,377.77 L801.40,375.36 L801.70,376.88 L802.00,374.50 L802.30,376.31 L802.60,374.21 L802.90,376.35 L803.20,373.91 L803.50,375.77 L803.80,372.75 L804.10,375.27 L804.40,372.13 L804.70,372.95 L805.00,370.26 L805.30,371.22 L805.60,368.79 L805.90,371.49 L806.20,369.13 L806.50,371.73 L806.80,369.46 L807.10,371.45 L807.40,368.60 L807.70,370.10 L808.00,367.89 L808.30,370.69 L808.60,368.44 L808.90,371.50 L809.20,368.93 L809.50,371.99 L809.80,370.28 L810.10,373.39 L810.40,372.19 L810.70,374.40 L811.00,371.94 L811.30,374.29 L811.60,371.23 L811.90,371.81 L812.20,368.58 L812.50,370.77 L812.80,367.94 L813.10,369.63 L813.40,367.33 L813.70,370.08 L814.00,368.05 L814.30,370.89 L814.60,368.26 L814.90,371.14 L815.20,367.84 L815.50,369.33 L815.80,366.08 L816.10,367.57 L816.40,365.02 L816.70,366.37 L817.00,363.45 L817.30,365.31 L817.60,362.22 L817.90,364.47 L818.20,361.12 L818.50,362.15 L818.80,359.47 L819.10,360.76 L819.40,356.96 L819.70,358.52 L820.00,354.78 L820.30,355.82 L820.60,352.17 L820.90,354.41 L821.20,351.45 L821.50,354.72 L821.80,352.44 L822.10,354.97 L822.40,353.41 L822.70,355.66 L823.00,353.66 L823.30,355.40 L823.60,352.87 L823.90,355.84 L824.20,352.88 L824.50,355.73 L824.80,353.22 L825.10,357.31 L825.40,356.04 L825.70,359.68 L826.00,358.15 L826.30,362.45 L826.60,356.83 L826.90,356.27 L827.20,350.20 L827.50,349.61 L827.80,344.32 L828.10,344.12 L828.40,340.40 L828.70,342.85 L829.00,339.82 L829.30,341.69 L829.60,338.86 L829.90,341.89 L830.20,338.29 L830.50,340.42 L830.80,337.14 L831.10,338.79 L831.40,335.85 L831.70,337.66 L832.00,334.68 L832.30,336.37 L832.60,333.83 L832.90,335.39 L833.20,334.33 L833.50,338.27 L833.80,338.16 L834.10,342.09 L834.40,342.19 L834.70,346.54 L835.00,345.79 L835.30,350.08 L835.60,348.84 L835.90,352.53 L836.20,352.03 L836.50,354.28 L836.80,351.19 L837.10,352.45 L837.40,349.45 L837.70,350.44 L838.00,346.88 L838.30,348.70 L838.60,344.89 L838.90,347.11 L839.20,344.99 L839.50,349.23 L839.80,348.68 L840.10,352.04 L840.40,350.81 L840.70,353.42 L841.00,349.96 L841.30,352.16 L841.60,348.16 L841.90,349.76 L842.20,347.08 L842.50,348.98 L842.80,346.18 L843.10,348.37 L843.40,344.37 L843.70,346.64 L844.00,338.52 L844.30,333.71 L844.60,323.43 L844.90,326.02 L845.20,323.95 L845.50,326.76 L845.80,325.08 L846.10,327.65 L846.40,325.64 L846.70,328.12 L847.00,326.58 L847.30,329.36 L847.60,326.31 L847.90,327.47 L848.20,323.85 L848.50,326.03 L848.80,323.16 L849.10,325.47 L849.40,322.81 L849.70,324.50 L850.00,320.13 L850.30,320.90 L850.60,316.37 L850.90,317.09 L851.20,313.24 L851.50,315.56 L851.80,313.91 L852.10,317.01 L852.40,315.44 L852.70,317.60 L853.00,315.90 L853.30,319.10 L853.60,316.67 L853.90,320.94 L854.20,318.88 L854.50,323.26 L854.80,321.67 L855.10,324.12 L855.40,321.53 L855.70,323.26 L856.00,320.01 L856.30,321.20 L856.60,318.26 L856.90,319.91 L857.20,316.33 L857.50,317.36 L857.80,313.92 L858.10,315.69 L858.40,312.34 L858.70,313.45 L859.00,311.43 L859.30,316.94 L859.60,317.21 L859.90,319.79 L860.20,316.42 L860.50,319.41 L860.80,316.48 L861.10,318.20 L861.40,315.76 L861.70,317.11 L862.00,314.20 L862.30,314.51 L862.60,308.60 L862.90,308.64 L863.20,302.50 L863.50,302.39 L863.80,296.77 L864.10,297.79 L864.40,294.07 L864.70,295.64 L865.00,292.18 L865.30,294.25 L865.60,290.97 L865.90,295.05 L866.20,295.57 L866.50,301.49 L866.80,301.90 L867.10,308.17 L867.40,308.45 L867.70,314.25 L868.00,317.89 L868.30,326.25 L868.60,329.79 L868.90,339.14 L869.20,345.28 L869.50,355.78 L869.80,362.65 L870.10,373.32 L870.40,373.87 L870.70,375.09 L871.00,372.66 L871.30,374.15 L871.60,371.06 L871.90,372.61 L872.20,369.03 L872.50,374.00 L872.80,375.07 L873.10,380.45 L873.40,378.67 L873.70,379.35 L874.00,376.71 L874.30,377.65 L874.60,374.89 L874.90,377.01 L875.20,374.25 L875.50,381.22 L875.80,383.46 L876.10,386.05 L876.40,383.16 L876.70,384.49 L877.00,381.70 L877.30,382.41 L877.60,379.72 L877.90,382.86 L878.20,383.63 L878.50,387.56 L878.80,388.37 L879.10,390.77 L879.40,385.31 L879.70,383.90 L880.00,378.23 L880.30,376.77 L880.60,370.92 L880.90,370.53 L881.20,366.34 L881.50,367.35 L881.80,364.01 L882.10,364.19 L882.40,360.06 L882.70,359.26 L883.00,353.57 L883.30,353.79 L883.60,349.16 L883.90,350.12 L884.20,346.78 L884.50,347.47 L884.80,344.03 L885.10,344.69 L885.40,342.27 L885.70,344.15 L886.00,341.55 L886.30,343.39 L886.60,339.68 L886.90,341.63 L887.20,339.14 L887.50,344.00 L887.80,343.44 L888.10,347.99 L888.40,345.32 L888.70,346.73 L889.00,342.51 L889.30,344.66 L889.60,341.57 L889.90,342.73 L890.20,338.97 L890.50,340.45 L890.80,336.67 L891.10,337.50 L891.40,334.38 L891.70,335.44 L892.00,331.72 L892.30,333.50 L892.60,332.35 L892.90,335.46 L893.20,333.96 L893.50,337.54 L893.80,336.12 L894.10,340.01 L894.40,338.60 L894.70,341.74 L895.00,342.22 L895.30,348.41 L895.60,349.23 L895.90,352.61 L896.20,347.77 L896.50,348.54 L896.80,343.79 L897.10,343.59 L897.40,339.32 L897.70,339.45 L898.00,337.36 L898.30,342.54 L898.60,341.49 L898.90,346.48 L899.20,344.72 L899.50,346.07 L899.80,343.19 L900.10,344.54 L900.40,342.25 L900.70,344.26 L901.00,340.44 L901.30,342.49 L901.60,340.19 L901.90,334.86 L902.20,324.25 L902.50,318.35 L902.80,308.34 L903.10,307.55 L903.40,303.20 L903.70,302.70 L904.00,297.38 L904.30,297.06 L904.60,293.81 L904.90,294.86 L905.20,291.26 L905.50,293.33 L905.80,289.08 L906.10,291.05 L906.40,287.16 L906.70,287.89 L907.00,284.04 L907.30,284.99 L907.60,280.94 L907.90,282.23 L908.20,278.00 L908.50,280.87 L908.80,278.40 L909.10,280.98 L909.40,279.00 L909.70,282.06 L910.00,281.66 L910.30,285.64 L910.60,284.76 L910.90,289.32 L911.20,288.57 L911.50,292.89 L911.80,292.36 L912.10,295.79 L912.40,293.32 L912.70,295.71 L913.00,293.03 L913.30,292.16 L913.60,286.53 L913.90,284.75 L914.20,278.66 L914.50,277.27 L914.80,271.62 L915.10,271.94 L915.40,267.73 L915.70,268.34 L916.00,264.49 L916.30,268.11 L916.60,267.34 L916.90,272.83 L917.20,272.19 L917.50,276.72 L917.80,276.45 L918.10,277.04 L918.40,273.23 L918.70,275.27 L919.00,271.27 L919.30,273.79 L919.60,270.06 L919.90,272.28 L920.20,271.29 L920.50,275.32 L920.80,274.68 L921.10,278.95 L921.40,277.60 L921.70,281.47 L922.00,280.40 L922.30,285.15 L922.60,284.14 L922.90,288.89 L923.20,289.87 L923.50,296.63 L923.80,297.57 L924.10,304.21 L924.40,303.89 L924.70,303.93 L925.00,299.27 L925.30,297.25 L925.60,288.96 L925.90,285.61 L926.20,278.14 L926.50,274.24 L926.80,270.57 L927.10,274.40 L927.40,272.00 L927.70,276.11 L928.00,272.64 L928.30,274.12 L928.60,270.04 L928.90,270.87 L929.20,266.55 L929.50,267.72 L929.80,264.89 L930.10,267.21 L930.40,264.56 L930.70,266.20 L931.00,262.79 L931.30,265.47 L931.60,262.20 L931.90,260.57 L932.20,253.63 L932.50,251.64 L932.80,248.81 L933.10,251.81 L933.40,249.02 L933.70,251.59 L934.00,248.64 L934.30,251.39 L934.60,249.68 L934.90,252.41 L935.20,249.52 L935.50,252.89 L935.80,252.26 L936.10,256.53 L936.40,255.86 L936.70,259.18 L937.00,254.66 L937.30,255.40 L937.60,250.83 L937.90,251.08 L938.20,246.63 L938.50,247.49 L938.80,243.90 L939.10,245.73 L939.40,244.86 L939.70,247.81 L940.00,247.08 L940.30,250.72 L940.60,245.90 L940.90,244.62 L941.20,238.36 L941.50,236.36 L941.80,230.98 L942.10,229.28 L942.40,223.46 L942.70,222.91 L943.00,217.16 L943.30,215.47 L943.60,209.58 L943.90,208.42 L944.20,206.51 L944.50,208.82 L944.80,205.80 L945.10,208.05 L945.40,204.43 L945.70,203.86 L946.00,199.27 L946.30,199.40 L946.60,194.87 L946.90,196.99 L947.20,194.02 L947.50,196.11 L947.80,193.19 L948.10,195.36 L948.40,192.00 L948.70,194.82 L949.00,192.13 L949.30,195.67 L949.60,194.75 L949.90,198.73 L950.20,198.07 L950.50,201.64 L950.80,199.82 L951.10,201.97 L951.40,198.78 L951.70,200.88 L952.00,198.07 L952.30,201.53 L952.60,201.20 L952.90,206.54 L953.20,206.74 L953.50,211.59 L953.80,207.84 L954.10,209.19 L954.40,205.96 L954.70,206.70 L955.00,203.12 L955.30,211.31 L955.60,214.07 L955.90,221.16 L956.20,223.52 L956.50,230.61 L956.80,222.76 L957.10,219.34 L957.40,210.23 L957.70,210.85 L958.00,213.00 L958.30,220.78 L958.60,222.49 L958.90,229.73 L959.20,231.67 L959.50,236.10 L959.80,227.88 L960.10,225.72 L960.40,218.58 L960.70,216.81 L961.00,208.66 L961.30,207.29 L961.60,199.91 L961.90,201.14 L962.20,197.56 L962.50,200.15 L962.80,197.63 L963.10,199.55 L963.40,201.68 L963.70,210.53 L964.00,214.91 L964.30,223.51 L964.60,226.82 L964.90,226.85 L965.20,220.62 L965.50,220.99 L965.80,216.04 L966.10,216.69 L966.40,216.53 L966.70,221.24 L967.00,220.07 L967.30,225.15 L967.60,224.40 L967.90,229.61 L968.20,228.46 L968.50,229.35 L968.80,224.69 L969.10,225.59 L969.40,222.72 L969.70,227.81 L970.00,234.41 L970.30,246.49 L970.60,248.25 L970.90,245.41 L971.20,237.67 L971.50,234.11 L971.80,225.85 L972.10,224.31 L972.40,218.20 L972.70,216.82 L973.00,210.83 L973.30,209.76 L973.60,207.81 L973.90,212.27 L974.20,210.88 L974.50,215.94 L974.80,215.39 L975.10,220.10 L975.40,219.22 L975.70,222.17 L976.00,218.15 L976.30,219.88 L976.60,216.13 L976.90,217.34 L977.20,221.50 L977.50,230.61 L977.80,235.52 L978.10,244.47 L978.40,249.17 L978.70,258.36 L979.00,262.48 L979.30,271.41 L979.60,266.93 L979.90,266.21 L980.20,260.57 L980.50,259.93 L980.80,254.63 L981.10,255.19 L981.40,251.77 L981.70,255.84 L982.00,256.01 L982.30,259.94 L982.60,260.15 L982.90,265.06 L983.20,265.01 L983.50,270.93 L983.80,271.53 L984.10,277.47 L984.40,275.93 L984.70,274.92 L985.00,268.70 L985.30,267.31 L985.60,260.78 L985.90,265.20 L986.20,267.08 L986.50,273.79 L986.80,271.17 L987.10,270.81 L987.40,265.54 L987.70,264.97 L988.00,259.22 L988.30,258.10 L988.60,251.48 L988.90,250.92 L989.20,244.90 L989.50,238.99 L989.80,227.89 L990.10,222.33 L990.40,212.59 L990.70,213.90 L991.00,210.57 L991.30,212.27 L991.60,209.30 L991.90,211.31 L992.20,207.67 L992.50,209.48 L992.80,209.10 L993.10,213.47 L993.40,213.01 L993.70,218.31 L994.00,217.88 L994.30,222.65 L994.60,221.52 L994.90,221.65 L995.20,216.13 L995.50,216.78 L995.80,211.24 L996.10,211.72 L996.40,206.24 L996.70,206.73 L997.00,200.65 L997.30,200.75 L997.60,199.45 L997.90,204.94 L998.20,206.17 L998.50,212.51 L998.80,214.04 L999.10,217.01 L999.40,213.12 L999.70,213.63 L1000.00,209.86 L1000.30,210.16 L1000.60,208.96 L1000.90,213.24 L1001.20,212.55 L1001.50,217.44 L1001.80,216.21 L1002.10,221.43 L1002.40,220.67 L1002.70,222.11 L1003.00,218.32 L1003.30,220.01 L1003.60,216.23 L1003.90,216.95 L1004.20,215.81 L1004.50,220.40 L1004.80,220.15 L1005.10,225.52 L1005.40,225.38 L1005.70,229.93 L1006.00,229.09 L1006.30,234.13 L1006.60,230.88 L1006.90,233.90 L1007.20,231.56 L1007.50,235.25 L1007.80,232.99 L1008.10,235.11 L1008.40,233.19 L1008.70,236.71 L1009.00,234.56 L1009.30,237.39 L1009.60,234.65 L1009.90,237.29 L1010.20,235.10 L1010.50,237.28 L1010.80,234.71 L1011.10,237.28 L1011.40,236.40 L1011.70,244.16 L1012.00,246.31 L1012.30,253.40 L1012.60,255.48 L1012.90,259.11 L1013.20,256.27 L1013.50,260.25 L1013.80,258.44 L1014.10,261.14 L1014.40,259.69 L1014.70,262.90 L1015.00,260.46 L1015.30,262.84 L1015.60,259.81 L1015.90,262.53 L1016.20,260.06 L1016.50,260.26 L1016.80,251.96 L1017.10,249.65 L1017.40,241.61 L1017.70,240.99 L1018.00,240.48 L1018.30,243.86 L1018.60,243.02 L1018.90,247.63 L1019.20,247.20 L1019.50,252.00 L1019.80,250.82 L1020.10,254.80 L1020.40,253.06 L1020.70,257.52 L1021.00,256.22 L1021.30,259.72 L1021.60,258.82 L1021.90,263.12 L1022.20,262.60 L1022.50,266.15 L1022.80,266.05 L1023.10,270.50 L1023.40,265.52 L1023.70,266.32 L1024.00,262.22 L1024.30,263.39 L1024.60,259.47 L1024.90,260.41 L1025.20,257.22 L1025.50,259.78 L1025.80,256.16 L1026.10,258.44 L1026.40,256.37 L1026.70,258.42 L1027.00,255.11 L1027.30,256.14 L1027.60,251.21 L1027.90,252.33 L1028.20,247.96 L1028.50,249.20 L1028.80,245.30 L1029.10,245.28 L1029.40,239.62 L1029.70,237.79 L1030.00,231.68 L1030.30,232.36 L1030.60,228.66 L1030.90,230.94 L1031.20,227.45 L1031.50,228.79 L1031.80,225.03 L1032.10,226.23 L1032.40,221.93 L1032.70,223.32 L1033.00,220.47 L1033.30,222.85 L1033.60,219.71 L1033.90,222.07 L1034.20,217.35 L1034.50,216.33 L1034.80,210.71 L1035.10,210.16 L1035.40,210.05 L1035.70,215.08 L1036.00,216.63 L1036.30,222.51 L1036.60,217.09 L1036.90,213.75 L1037.20,204.23 L1037.50,199.57 L1037.80,193.79 L1038.10,199.77 L1038.40,203.38 L1038.70,210.64 L1039.00,211.86 L1039.30,211.99 L1039.60,207.09 L1039.90,207.23 L1040.20,201.87 L1040.50,206.46 L1040.80,205.91 L1041.10,210.22 L1041.40,209.50 L1041.70,214.20 L1042.00,213.50 L1042.30,219.07 L1042.60,217.75 L1042.90,222.10 L1043.20,221.32 L1043.50,226.21 L1043.80,225.12 L1044.10,226.71 L1044.40,221.67 L1044.70,221.97 L1045.00,215.64 L1045.30,216.73 L1045.60,212.87 L1045.90,213.85 L1046.20,210.26 L1046.50,211.85 L1046.80,208.40 L1047.10,210.72 L1047.40,207.16 L1047.70,207.84 L1048.00,204.02 L1048.30,205.80 L1048.60,201.03 L1048.90,202.27 L1049.20,196.46 L1049.50,195.43 L1049.80,188.97 L1050.10,186.61 L1050.40,182.95 L1050.70,184.28 L1051.00,181.88 L1051.30,184.41 L1051.60,183.36 L1051.90,186.27 L1052.20,185.09 L1052.50,192.33 L1052.80,195.39 L1053.10,203.23 L1053.40,202.80 L1053.70,206.59 L1054.00,204.89 L1054.30,208.90 L1054.60,206.60 L1054.90,209.75 L1055.20,205.90 L1055.50,208.55 L1055.80,204.95 L1056.10,207.21 L1056.40,204.07 L1056.70,207.85 L1057.00,207.52 L1057.30,212.70 L1057.60,212.35 L1057.90,215.81 L1058.20,212.95 L1058.50,214.83 L1058.80,211.26 L1059.10,212.13 L1059.40,208.40 L1059.70,209.11 L1060.00,203.89 L1060.30,203.25 L1060.60,197.66 L1060.90,199.08 L1061.20,197.71 L1061.50,201.04 L1061.80,199.81 L1062.10,204.28 L1062.40,201.75 L1062.70,202.34 L1063.00,197.56 L1063.30,197.99 L1063.60,195.16 L1063.90,199.52 L1064.20,199.09 L1064.50,204.34 L1064.80,203.56 L1065.10,208.37 L1065.40,207.13 L1065.70,211.62 L1066.00,209.87 L1066.30,214.02 L1066.60,213.01 L1066.90,218.67 L1067.20,218.51 L1067.50,223.90 L1067.80,224.28 L1068.10,227.48 L1068.40,226.98 L1068.70,230.56 L1069.00,228.86 L1069.30,231.27 L1069.60,228.18 L1069.90,230.52 L1070.20,226.88 L1070.50,230.26 L1070.80,229.52 L1071.10,233.94 L1071.40,233.29 L1071.70,237.96 L1072.00,235.13 L1072.30,236.85 L1072.60,233.36 L1072.90,234.77 L1073.20,230.80 L1073.50,230.93 L1073.80,225.85 L1074.10,225.20 L1074.40,220.14 L1074.70,220.81 L1075.00,215.18 L1075.30,215.99 L1075.60,210.88 L1075.90,210.97 L1076.20,207.41 L1076.50,212.11 L1076.80,211.45 L1077.10,215.50 L1077.40,215.26 L1077.70,219.29 L1078.00,215.50 L1078.30,215.21 L1078.60,210.44 L1078.90,210.11 L1079.20,208.24 L1079.50,216.42 L1079.80,219.77 L1080.10,226.66 L1080.40,226.78 L1080.70,228.08 L1081.00,223.76 L1081.30,224.73 L1081.60,221.33 L1081.90,225.88 L1082.20,225.06 L1082.50,229.91 L1082.80,228.96 L1083.10,232.33 L1083.40,230.68 L1083.70,232.85 L1084.00,231.36 L1084.30,229.83 L1084.60,222.51 L1084.90,218.95 L1085.20,210.91 L1085.50,210.06 L1085.80,206.81 L1086.10,208.76 L1086.40,205.82 L1086.70,209.19 L1087.00,209.14 L1087.30,214.89 L1087.60,215.75 L1087.90,219.83 L1088.20,215.29 L1088.50,214.66 L1088.80,209.43 L1089.10,209.33 L1089.40,208.91 L1089.70,213.43 L1090.00,213.31 L1090.30,217.82 L1090.60,216.10 L1090.90,221.04 L1091.20,219.94 L1091.50,224.61 L1091.80,222.99 L1092.10,227.01 L1092.40,226.62 L1092.70,229.25 L1093.00,228.74 L1093.30,232.10 L1093.60,230.88 L1093.90,234.55 L1094.20,233.06 L1094.50,233.22 L1094.80,229.06 L1095.10,230.10 L1095.40,224.74 L1095.70,222.74 L1096.00,214.90 L1096.30,212.30 L1096.60,204.43 L1096.90,205.56 L1097.20,203.58 L1097.50,206.57 L1097.80,204.92 L1098.10,205.86 L1098.40,200.81 L1098.70,200.92 L1099.00,195.92 L1099.30,196.39 L1099.60,193.41 L1099.90,194.21 L1100.20,190.15 L1100.50,193.76 L1100.80,195.12 L1101.10,201.22 L1101.40,202.63 L1101.70,208.96 L1102.00,208.13 L1102.30,211.87 L1102.60,210.89 L1102.90,215.18 L1103.20,216.63 L1103.50,222.04 L1103.80,223.23 L1104.10,229.06 L1104.40,226.25 L1104.70,225.58 L1105.00,220.19 L1105.30,220.38 L1105.60,218.50 L1105.90,222.84 L1106.20,223.51 L1106.50,228.20 L1106.80,227.65 L1107.10,231.83 L1107.40,230.51 L1107.70,234.33 L1108.00,232.23 L1108.30,233.35 L1108.60,229.65 L1108.90,229.96 L1109.20,225.97 L1109.50,226.74 L1109.80,223.13 L1110.10,224.32 L1110.40,219.59 L1110.70,218.87 L1111.00,214.38 L1111.30,213.89 L1111.60,208.35 L1111.90,212.51 L1112.20,212.64 L1112.50,218.27 L1112.80,219.83 L1113.10,224.82 L1113.40,223.54 L1113.70,226.04 L1114.00,222.55" fill="none" stroke="#075da8" stroke-width="3.35" stroke-linejoin="round" stroke-linecap="butt"/>
</svg>
</body></html>
